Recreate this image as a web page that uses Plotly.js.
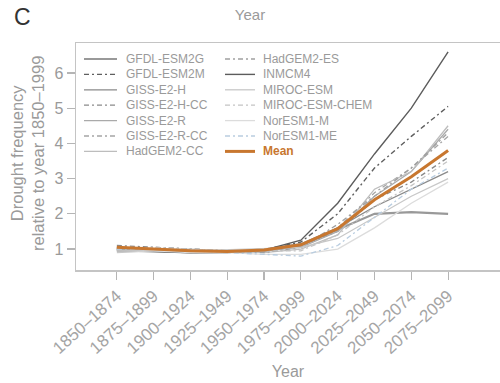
<!DOCTYPE html>
<html><head><meta charset="utf-8">
<script src="https://cdn.plot.ly/plotly-3.0.1.min.js"></script>
<style>html,body{margin:0;padding:0;background:#fff}#chart{width:500px;height:383px}</style>
</head><body><div id="chart"></div>
<script>
// ---- data ----
const periods = ["1850–1874","1875–1899","1900–1924","1925–1949","1950–1974","1975–1999","2000–2024","2025–2049","2050–2074","2075–2099"];
const modelNames = ["GFDL-ESM2G","GFDL-ESM2M","GISS-E2-H","GISS-E2-H-CC","GISS-E2-R","GISS-E2-R-CC","HadGEM2-CC","HadGEM2-ES","INMCM4","MIROC-ESM","MIROC-ESM-CHEM","NorESM1-M","NorESM1-ME"];
const gfdlEsm2g   = [1.00,0.95,0.90,0.92,0.95,1.10,1.55,2.00,2.05,2.00];
const gfdlEsm2m   = [1.00,1.00,0.95,0.92,0.98,1.20,2.00,3.30,4.20,5.05];
const gissE2h     = [1.05,1.00,0.95,0.95,1.00,1.15,1.60,2.20,2.70,3.20];
const gissE2hCC   = [1.10,1.05,1.00,0.95,0.95,1.10,1.50,2.40,2.90,3.60];
const gissE2r     = [1.00,1.00,0.95,0.90,0.95,1.05,1.50,2.50,3.20,4.40];
const gissE2rCC   = [1.05,1.00,0.90,0.92,1.00,1.10,1.60,2.60,3.30,4.20];
const hadgem2CC   = [0.95,1.00,1.00,0.95,0.90,1.00,1.40,2.70,3.20,4.50];
const hadgem2ES   = [1.00,1.05,1.00,0.95,0.90,1.05,1.70,2.50,3.30,4.30];
const inmcm4      = [0.95,0.92,0.90,0.90,0.97,1.25,2.30,3.70,5.00,6.60];
const mirocEsm    = [0.90,0.95,0.95,0.98,1.00,1.05,1.30,1.90,2.50,3.00];
const mirocEsmChem= [1.00,1.05,1.00,0.95,0.95,0.95,1.40,2.20,2.80,3.50];
const noresm1M    = [0.95,0.95,0.90,0.90,0.85,0.85,1.00,1.60,2.30,2.90];
const noresm1ME   = [1.00,1.00,0.95,0.90,0.85,0.80,1.10,1.90,2.70,3.30];
const meanValues  = [1.05,1.00,0.95,0.93,0.97,1.12,1.58,2.40,3.05,3.80];
const yTicks = [1,2,3,4,5,6];

// ---- styles ----
const DD = "5px,3px,2px,3px";
const modelSeries = [gfdlEsm2g,gfdlEsm2m,gissE2h,gissE2hCC,gissE2r,gissE2rCC,hadgem2CC,hadgem2ES,inmcm4,mirocEsm,mirocEsmChem,noresm1M,noresm1ME];
const styles = [
  {c:"#999999",w:2.2,d:"solid"},
  {c:"#5f5f5f",w:1.4,d:DD},
  {c:"#8a8a8a",w:1.3,d:"solid"},
  {c:"#8a8a8a",w:1.3,d:DD},
  {c:"#aaaaaa",w:1.3,d:"solid"},
  {c:"#a5a5a5",w:1.3,d:DD},
  {c:"#bdbdbd",w:1.3,d:"solid"},
  {c:"#a0a0a0",w:1.3,d:DD},
  {c:"#5c5c5c",w:1.4,d:"solid"},
  {c:"#c8c8c8",w:1.3,d:"solid"},
  {c:"#c4c4c4",w:1.3,d:DD},
  {c:"#dcdcdc",w:1.3,d:"solid"},
  {c:"#b9cde0",w:1.3,d:DD}
];
const meanColor = "#c8772f";
const xIdx = periods.map((p,i)=>i);

const traces = modelSeries.map((s,i)=>({
  x:xIdx, y:s, type:"scatter", mode:"lines", name:modelNames[i], showlegend:false,
  line:{color:styles[i].c,width:styles[i].w,dash:styles[i].d}
}));
traces.push({x:xIdx,y:meanValues,type:"scatter",mode:"lines",name:"Mean",showlegend:false,
  line:{color:meanColor,width:3}});

// ---- manual legend (pixel layout converted to paper) ----
const L=76, T=43, W=424, H=227;
const px = v => (v-L)/W, py = v => (T+H-v)/H;
const shapes=[], annotations=[];
const legendNames = modelNames.concat(["Mean"]);
legendNames.forEach((n,i)=>{
  const col = i<7?0:1, row = i%7;
  const y = 59 + row*15.4;
  const x0 = col? 225:84, x1 = col? 255:117, xt = col? 261:124;
  const st = i<13 ? styles[i] : {c:meanColor,w:3,d:"solid"};
  shapes.push({type:"line",xref:"paper",yref:"paper",x0:px(x0),x1:px(x1),y0:py(y),y1:py(y),
    line:{color:st.c,width:st.w,dash:st.d}});
  annotations.push({xref:"paper",yref:"paper",x:px(xt),y:py(y),xanchor:"left",yanchor:"middle",
    showarrow:false,text:i<13?n:"<b>Mean</b>",
    font:{family:"Liberation Sans, Arial, sans-serif",size:12,color:i<13?"#9a9a9a":meanColor}});
});
annotations.push({xref:"paper",yref:"paper",x:px(27),y:py(154),xanchor:"center",yanchor:"middle",
  textangle:-90,showarrow:false,text:"Drought frequency<br>relative to year 1850–1999",
  font:{family:"Liberation Sans, Arial, sans-serif",size:16.5,color:"#9a9a9a"}});
annotations.push({xref:"paper",yref:"paper",x:px(12),y:py(17),xanchor:"left",yanchor:"middle",
  showarrow:false,text:"C",font:{family:"Liberation Sans, Arial, sans-serif",size:23,color:"#333333"}});

const layout = {
  width:500,height:383,
  margin:{l:76,r:0,t:43,b:113},
  paper_bgcolor:"#fff",plot_bgcolor:"#fff",
  font:{family:"Liberation Sans, Arial, sans-serif",color:"#9a9a9a"},
  title:{text:"Year",x:0.5,xref:"container",y:1-15/383,yref:"container",yanchor:"middle",xanchor:"center",
    font:{size:15,color:"#9a9a9a"}},
  xaxis:{range:[-1.11,10.41],tickvals:xIdx,ticktext:periods,tickangle:-42,
    showgrid:false,zeroline:false,showline:true,mirror:true,linecolor:"#c4c4c4",linewidth:1.5,
    ticks:"outside",ticklen:8,tickcolor:"#b5b5b5",tickwidth:1.2,
    tickfont:{size:17,color:"#a5a5a5"},
    title:{text:"Year",standoff:9,font:{size:16,color:"#9a9a9a"}}},
  yaxis:{range:[0.405,6.85],tickvals:yTicks,showgrid:false,zeroline:false,
    showline:true,linecolor:"#c4c4c4",linewidth:1.5,
    ticks:"outside",ticklen:8,tickcolor:"#b5b5b5",tickwidth:1.2,
    tickfont:{size:16,color:"#9a9a9a"}},
  showlegend:false,
  shapes:shapes, annotations:annotations
};
Plotly.newPlot("chart",traces,layout,{displayModeBar:false,staticPlot:true});
</script></body></html>
